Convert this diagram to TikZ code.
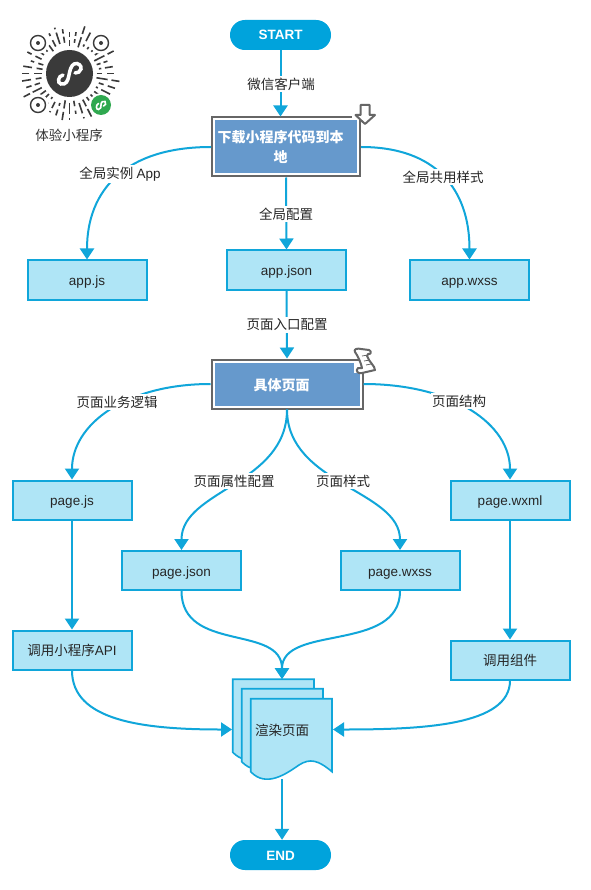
\documentclass[tikz,border=0pt]{standalone}
\usepackage{fontspec}
\setmainfont{Noto Sans CJK SC}
\newfontfamily\latf{Liberation Sans}
\usetikzlibrary{arrows.meta,calc}
\definecolor{flow}{HTML}{10A6DA}
\definecolor{pale}{HTML}{AFE5F6}
\definecolor{pill}{HTML}{00A3DC}
\definecolor{mainblue}{HTML}{6699CC}
\definecolor{mgray}{HTML}{666666}
\definecolor{qrdark}{HTML}{3A3A3A}
\definecolor{qrgreen}{HTML}{2FA84F}
\tikzset{
  x=1pt,y=-1pt,
  conn/.style={draw=flow,line width=2pt,-{Triangle[length=11pt,width=14pt]}},
  terminal/.style={rounded corners=14.9pt,fill=pill,minimum width=101pt,minimum height=30pt,text=white,font=\latf\bfseries\fontsize{13.5}{15}\selectfont,inner sep=0pt,text height=10pt,text depth=0pt},
  databox/.style={draw=flow,line width=2pt,fill=pale,minimum height=39pt,minimum width=119pt,inner sep=0pt,text=black!85,font=\fontsize{13.5}{16}\selectfont,text height=12pt,text depth=1pt},
  mainbox/.style={draw=mgray,line width=2pt,fill=white,inner sep=0pt,align=center,text=white,font=\bfseries\fontsize{14}{20}\selectfont,
    path picture={\fill[mainblue] ($(path picture bounding box.south west)+(3pt,3pt)$) rectangle ($(path picture bounding box.north east)+(-3pt,-3pt)$);}},
  edgelabel/.style={fill=white,inner sep=1.5pt,text=black!85,font=\fontsize{13.5}{16}\selectfont},
  docpage/.style={draw=flow,line width=1.6pt,fill=pale,line join=miter},
  icon/.style={draw=mgray,line width=2pt,fill=white,line join=round},
}
\newcommand{\lat}[1]{{\latf #1}}
\newcommand{\docshape}[2]{%
  \path[docpage] (250.7+#1,698.7+#2) -- (332+#1,698.7+#2) -- (332+#1,771.7+#2)
    .. controls (318+#1,760+#2) and (310+#1,758+#2) .. (299+#1,765+#2)
    .. controls (286+#1,774+#2) and (266+#1,788+#2) .. (250.7+#1,771.7+#2) -- cycle;}
\begin{document}
\begin{tikzpicture}
\useasboundingbox[fill=white] (0,0) rectangle (590,890);

% QR code
\begin{scope}
  \pgfmathsetseed{23}
  \foreach \a in {0,9,...,351}{
    \pgfmathsetmacro{\ra}{27+5*rnd}
    \pgfmathsetmacro{\rb}{\ra+2+10*rnd}
    \pgfmathsetmacro{\rc}{\rb+3+2*rnd}
    \pgfmathsetmacro{\rd}{\rc+1+9*rnd}
    \draw[qrdark,line width=1.6pt] ({69.5+\ra*cos(\a)},{73.5+\ra*sin(\a)}) -- ({69.5+\rb*cos(\a)},{73.5+\rb*sin(\a)});
    \ifdim\rd pt<52pt
      \draw[qrdark,line width=1.6pt] ({69.5+\rc*cos(\a)},{73.5+\rc*sin(\a)}) -- ({69.5+\rd*cos(\a)},{73.5+\rd*sin(\a)});
    \fi
  }
  \foreach \p in {(38,43),(101,43),(38,105)}{
    \fill[white] \p circle (11);
    \draw[qrdark,line width=1.4pt] \p circle (7.5);
    \fill[qrdark] \p circle (2);
  }
  \fill[white] (101,105) circle (12);
  \fill[qrdark] (69.5,73.5) circle (23.5);
  \draw[white,line width=3.5pt,line cap=round] (63,75) .. controls (58,76) and (57,83) .. (61,84)
    .. controls (66,85) and (68,81) .. (69,75) .. controls (70,70) and (71,66) .. (74,64)
    .. controls (78,62) and (82,66) .. (81,69) .. controls (80,72) and (78,73) .. (75,73);
  \fill[qrgreen] (101,105) circle (10);
  \draw[white,line width=1.6pt,line cap=round] (98.5,103.5) .. controls (95.5,105) and (96,110) .. (98.5,109.5)
    .. controls (101,109) and (101,107) .. (101,105) .. controls (101,102) and (103,100.5) .. (105,101.5)
    .. controls (106.5,103) and (105.5,106) .. (103.5,106);
\end{scope}
\node[inner sep=0pt,text=black!80,font=\fontsize{13.5}{16}\selectfont] (qrcaption) at (69,135) {体验小程序};

% nodes
\node[terminal] (start) at (280.5,35) {START};
\node[mainbox,minimum width=148pt,minimum height=59pt] (load) at (286,147) {下载小程序代码到本\hspace*{11pt}\\地\hspace*{11pt}};
\node[databox] (appjs) at (87,280) {\lat{app.js}};
\node[databox] (appjson) at (286.5,270) {\lat{app.json}};
\node[databox] (appwxss) at (469.5,280) {\lat{app.wxss}};
\node[mainbox,minimum width=151pt,minimum height=49pt,text height=14pt,text depth=1pt] (page) at (287,384) {具体页面\hspace*{11pt}};
\node[databox] (pagejs) at (72,500) {\lat{page.js}};
\node[databox] (pagejson) at (181.5,570.5) {\lat{page.json}};
\node[databox] (pagewxss) at (400,570.5) {\lat{page.wxss}};
\node[databox] (pagewxml) at (510,500) {\lat{page.wxml}};
\node[databox] (api) at (72,650) {调用小程序\lat{API}};
\node[databox] (comp) at (510,660) {调用组件};
\node[terminal] (finish) at (280.5,855) {END};

% rendered document stack
\docshape{-18}{-19.5}
\docshape{-9}{-10}
\docshape{0}{0}
\node[minimum width=100pt,minimum height=100pt,inner sep=0pt,text=black!85,font=\fontsize{13.5}{16}\selectfont,text height=12pt,text depth=1pt] (render) at (282,729.5) {渲染页面};

% connectors
\draw[conn] (start.south) -- (load.north -| start.south);
\draw[conn] (load.south) -- (appjson.north);
\draw[conn] (load.west) .. controls +(-85,0) and +(0,-70) .. (appjs.north);
\draw[conn] (load.east) .. controls +(75,0) and +(0,-70) .. (appwxss.north);
\draw[conn] (appjson.south) -- (page.north);
\draw[conn] (page.west) .. controls +(-85,0) and +(0,-55) .. (pagejs.north);
\draw[conn] (page.east) .. controls +(90,0) and +(0,-55) .. (pagewxml.north);
\draw[conn] (page.south) .. controls +(0,75) and +(0,-60) .. (pagejson.north);
\draw[conn] (page.south) .. controls +(0,75) and +(0,-60) .. (pagewxss.north);
\draw[conn] (pagejs.south) -- (api.north);
\draw[conn] (pagewxml.south) -- (comp.north);
\coordinate (rendertop) at (282,679);
\coordinate (renderleft) at (232,729.5);
\coordinate (renderright) at (333,729.5);
\coordinate (renderbottom) at (282,779);
\draw[conn] (pagejson.south) .. controls +(0,62) and +(0,-55) .. (rendertop);
\draw[conn] (pagewxss.south) .. controls +(0,62) and +(0,-55) .. (rendertop);
\draw[conn] (api.south) .. controls +(0,50) and +(-90,0) .. (renderleft);
\draw[conn] (comp.south) .. controls +(0,45) and +(90,0) .. (renderright);
\draw[conn] (renderbottom) -- (finish.north -| renderbottom);

% edge labels
\node[edgelabel] (l1) at (281,84) {微信客户端};
\node[edgelabel] (l2) at (120,174) {全局实例 \lat{App}};
\node[edgelabel] (l3) at (286,214) {全局配置};
\node[edgelabel] (l4) at (443,177) {全局共用样式};
\node[edgelabel] (l5) at (287,325) {页面入口配置};
\node[edgelabel] (l6) at (117,402) {页面业务逻辑};
\node[edgelabel] (l7) at (459,401) {页面结构};
\node[edgelabel] (l8) at (234,481) {页面属性配置};
\node[edgelabel] (l9) at (343,481) {页面样式};

% icons
\fill[white] (352,115) rectangle (362,120);
\path[icon] (360.5,105) -- (369.5,105) -- (369.5,115) -- (375,115) -- (365,124) -- (355.5,115) -- (360.5,115) -- cycle;
\fill[white] (354,362) rectangle (360,373);
\path[icon] (355,352) .. controls (353,349) and (358,348) .. (361,349) -- (369,350) .. controls (372,351) and (371,355) .. (368,354)
  -- (367,356) .. controls (369,362) and (375,366) .. (375,370) -- (362,373) .. controls (358,374) and (355,371) .. (358,368)
  -- (362,368) .. controls (361,363) and (358,356) .. (355,352) -- cycle;
\draw[mgray,line width=.8pt] (362,356) -- (368,355) (364,361) -- (370,360) (366,365) -- (371,364);
\end{tikzpicture}
\end{document}
